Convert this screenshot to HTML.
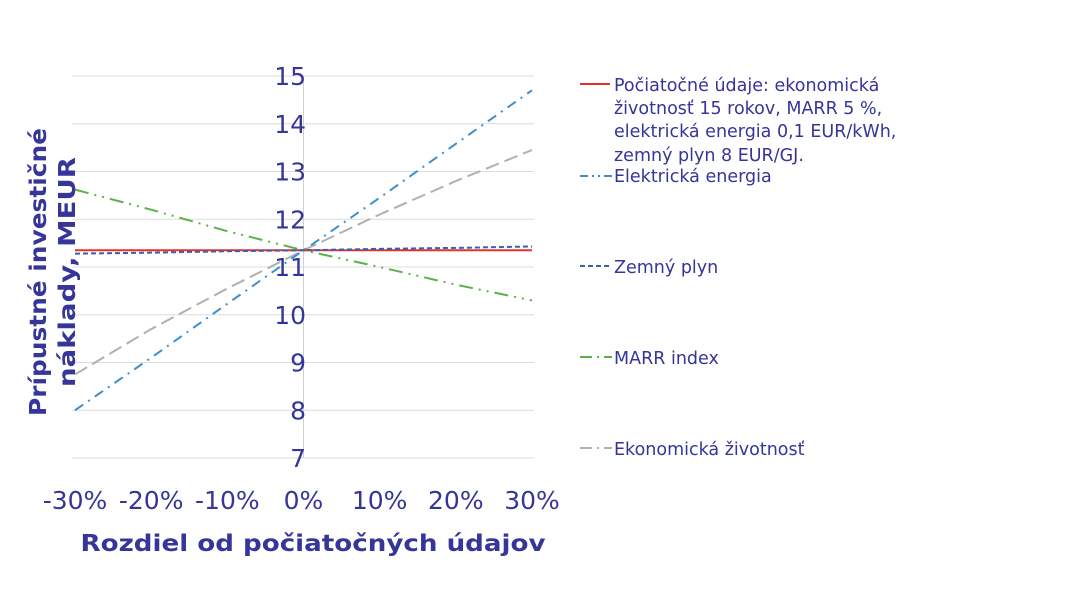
<!DOCTYPE html>
<html><head><meta charset="utf-8"><style>
body{margin:0;background:#fff;}
svg text{font-family:"DejaVu Sans","Liberation Sans",sans-serif;fill:#35359a;}
</style></head><body>
<svg width="1084" height="599" viewBox="0 0 1084 599">
<g id="grid"></g>
<g id="series"></g>
<g id="ticks"></g>
<text x="313" y="551" font-size="23" font-weight="bold" text-anchor="middle" textLength="465" lengthAdjust="spacingAndGlyphs">Rozdiel od počiatočných údajov</text>
<g transform="translate(46,272) rotate(-90)">
<text x="0" y="0" font-size="23" font-weight="bold" text-anchor="middle" textLength="288" lengthAdjust="spacingAndGlyphs">Prípustné investičné</text>
<text x="0" y="29" font-size="23" font-weight="bold" text-anchor="middle" textLength="230" lengthAdjust="spacingAndGlyphs">náklady, MEUR</text>
</g>
<g id="legend" font-size="17.5">
<g>
<line x1="580" y1="84" x2="610" y2="84" stroke="#e8302a" stroke-width="2"/>
<text x="614" y="91">Počiatočné údaje: ekonomická</text>
<text x="614" y="114">životnosť 15 rokov, MARR 5 %,</text>
<text x="614" y="137">elektrická energia  0,1 EUR/kWh,</text>
<text x="614" y="161">zemný plyn 8 EUR/GJ.</text>
</g>
<g>
<line x1="580" y1="176" x2="612" y2="176" stroke="#3b8fd0" stroke-width="2" stroke-dasharray="8,4,2,4,2,4"/>
<text x="614" y="182">Elektrická energia</text></g>
<g>
<line x1="580" y1="266" x2="610" y2="266" stroke="#3b5fb0" stroke-width="2" stroke-dasharray="5,3"/>
<text x="614" y="273">Zemný plyn</text></g>
<g>
<line x1="580" y1="357" x2="612" y2="357" stroke="#5cb04a" stroke-width="2" stroke-dasharray="12,5,2,5"/>
<text x="614" y="364">MARR index</text></g>
<g>
<line x1="580" y1="448" x2="612" y2="448" stroke="#b0b0b0" stroke-width="2" stroke-dasharray="12,5,2,5"/>
<text x="614" y="455">Ekonomická životnosť</text></g>
</g>
</svg>
<script>
const categories=[-30,-20,-10,0,10,20,30];
const xTickLabels=["-30%","-20%","-10%","0%","10%","20%","30%"];
const yTicks=[7,8,9,10,11,12,13,14,15];
const baseline=[11.35,11.35,11.35,11.35,11.35,11.35,11.35];
const electricity=[8.0,9.1,10.23,11.35,12.45,13.58,14.7];
const gas=[11.28,11.3,11.33,11.35,11.38,11.4,11.43];
const marr=[12.62,12.2,11.75,11.35,11.0,10.63,10.3];
const life=[8.75,9.7,10.55,11.35,12.1,12.8,13.45];
const NS="http://www.w3.org/2000/svg";
function xs(v){return 75+(v+30)/60*457;}
function ys(v){return 458-(v-7)/8*382;}
function mk(tag,attrs,parent){const e=document.createElementNS(NS,tag);for(const k in attrs)e.setAttribute(k,attrs[k]);parent.appendChild(e);return e;}
const grid=document.getElementById('grid'),ticks=document.getElementById('ticks'),ser=document.getElementById('series');
yTicks.forEach(t=>{
 const l=mk('line',{x1:72,x2:534,y1:ys(t),y2:ys(t),stroke:'#dcdcdc','stroke-width':1},grid);
 
 
 const tx=mk('text',{x:306,y:ys(t)+9,'font-size':25,'text-anchor':'end'},ticks);
 tx.textContent=t;
 
 
});
const ax=mk('line',{x1:xs(0),x2:xs(0),y1:ys(15),y2:ys(7),stroke:'#d0d0d0','stroke-width':1},grid);


categories.forEach((c,i)=>{
 const tx=mk('text',{x:xs(c),y:509,'font-size':25,'text-anchor':'middle'},ticks);
 tx.textContent=xTickLabels[i];
 
 
});
function line(arr,color,dash,name){
 const p=mk('polyline',{points:arr.map((v,i)=>xs(categories[i])+','+ys(v)).join(' '),fill:'none',stroke:color,'stroke-width':2,'stroke-dasharray':dash},ser);
 
 
}
line(life,'#b0b0b0','14,6','series-economic-life');
line(marr,'#5cb04a','14,6,2,6,2,6','series-marr');
line(electricity,'#3b8fd0','10,6,2,6','series-electricity');
line(baseline,'#e8302a','','series-baseline');
line(gas,'#3b5fb0','5,3','series-gas');
</script>
</body></html>
